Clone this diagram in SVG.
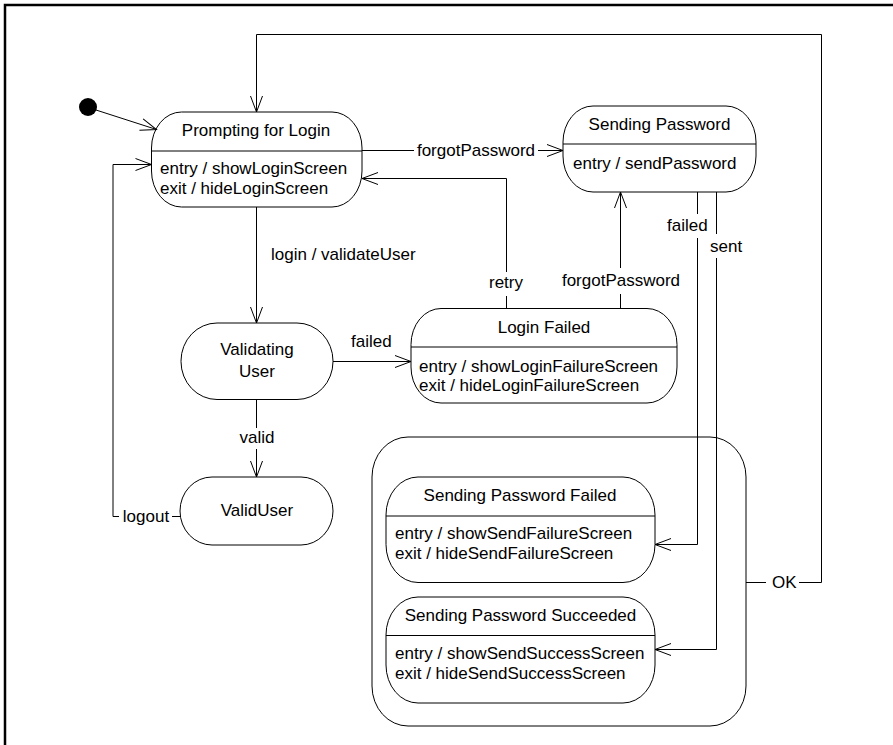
<svg xmlns="http://www.w3.org/2000/svg" width="893" height="745" viewBox="0 0 893 745">
<defs>
<marker id="arr" markerUnits="userSpaceOnUse" markerWidth="18" markerHeight="14" refX="16" refY="6" orient="auto" overflow="visible">
<path d="M0,0 L16,6 L0,12" fill="none" stroke="#000" stroke-width="1"/>
</marker>
</defs>
<style>
text{font-family:"Liberation Sans",Arial,sans-serif;font-size:17px;fill:#000}
.c{text-anchor:middle}
.st{fill:#fff;stroke:#000;stroke-width:1}
.ln{fill:none;stroke:#000;stroke-width:1}
.cn{fill:none;stroke:#000;stroke-width:1}
</style>
<rect x="0" y="0" width="893" height="745" fill="#fff"/>
<path d="M5,745 L5,5 L893,5" fill="none" stroke="#000" stroke-width="2.5"/>

<g id="composite">
<rect class="st" x="372" y="437" width="374" height="289" rx="36" ry="40"/>
</g>

<g id="initial">
<circle cx="88" cy="107" r="9" fill="#000"/>
</g>

<g id="prompting">
<rect class="st" x="151.5" y="112" width="210.5" height="95" rx="30" ry="36"/>
<line class="ln" x1="151.5" y1="151" x2="362" y2="151"/>
<text class="c" x="256" y="136">Prompting for Login</text>
<text x="160" y="174">entry / showLoginScreen</text>
<text x="160" y="194">exit / hideLoginScreen</text>
</g>

<g id="sending">
<rect class="st" x="563" y="106" width="193" height="86" rx="30" ry="36"/>
<line class="ln" x1="563" y1="144" x2="756" y2="144"/>
<text class="c" x="659.5" y="130">Sending Password</text>
<text x="573" y="169">entry / sendPassword</text>
</g>

<g id="validating">
<rect class="st" x="181" y="323" width="152" height="76.5" rx="36" ry="38"/>
<text class="c" x="257" y="355">Validating</text>
<text class="c" x="257" y="377">User</text>
</g>

<g id="loginFailed">
<rect class="st" x="411" y="308.5" width="266" height="94.5" rx="30" ry="36"/>
<line class="ln" x1="411" y1="347" x2="677" y2="347"/>
<text class="c" x="544" y="333">Login Failed</text>
<text x="419" y="372">entry / showLoginFailureScreen</text>
<text x="419" y="391">exit / hideLoginFailureScreen</text>
</g>

<g id="validUser">
<rect class="st" x="180" y="477" width="153" height="68" rx="32" ry="34"/>
<text class="c" x="257" y="516">ValidUser</text>
</g>

<g id="sendFailed">
<rect class="st" x="386" y="477" width="269" height="105.5" rx="32" ry="38"/>
<line class="ln" x1="386" y1="516" x2="655" y2="516"/>
<text class="c" x="520" y="501">Sending Password Failed</text>
<text x="395" y="539">entry / showSendFailureScreen</text>
<text x="395" y="559">exit / hideSendFailureScreen</text>
</g>

<g id="sendSucceeded">
<rect class="st" x="386" y="597" width="269" height="106" rx="32" ry="38"/>
<line class="ln" x1="386" y1="635.5" x2="655" y2="635.5"/>
<text class="c" x="520.5" y="621">Sending Password Succeeded</text>
<text x="395" y="659">entry / showSendSuccessScreen</text>
<text x="395" y="679">exit / hideSendSuccessScreen</text>
</g>

<g id="connectors">
<path class="cn" d="M96,110 L156.5,129.5" marker-end="url(#arr)"/>
<path class="cn" d="M362,150.5 L414,150.5"/>
<path class="cn" d="M538,150.5 L563,150.5" marker-end="url(#arr)"/>
<text x="476" y="156" class="c">forgotPassword</text>
<path class="cn" d="M506.5,308.5 L506.5,296"/>
<path class="cn" d="M506.5,272 L506.5,178.5 L362,178.5" marker-end="url(#arr)"/>
<text x="506" y="288" class="c">retry</text>
<path class="cn" d="M620.5,308.5 L620.5,294"/>
<path class="cn" d="M620.5,268 L620.5,192" marker-end="url(#arr)"/>
<text x="621" y="286" class="c">forgotPassword</text>
<path class="cn" d="M256.5,207 L256.5,323" marker-end="url(#arr)"/>
<text x="271" y="260">login / validateUser</text>
<path class="cn" d="M333,361.5 L411,361.5" marker-end="url(#arr)"/>
<text x="351" y="347">failed</text>
<path class="cn" d="M256.5,399.5 L256.5,428"/>
<path class="cn" d="M256.5,449 L256.5,477" marker-end="url(#arr)"/>
<text x="257" y="443" class="c">valid</text>
<path class="cn" d="M180,516.5 L172,516.5"/>
<path class="cn" d="M119,516.5 L113,516.5 L113,164.5 L151.5,164.5" marker-end="url(#arr)"/>
<text x="146" y="522" class="c">logout</text>
<path class="cn" d="M697.5,192 L697.5,214"/>
<path class="cn" d="M697.5,238 L697.5,544.5 L655,544.5" marker-end="url(#arr)"/>
<text x="667" y="231">failed</text>
<path class="cn" d="M716.5,192 L716.5,234"/>
<path class="cn" d="M716.5,258 L716.5,649.5 L655,649.5" marker-end="url(#arr)"/>
<text x="710" y="252">sent</text>
<path class="cn" d="M746,582.5 L766,582.5"/>
<path class="cn" d="M799,582.5 L821.5,582.5 L821.5,34.5 L256.5,34.5 L256.5,112" marker-end="url(#arr)"/>
<text x="772" y="588">OK</text>
</g>
</svg>
